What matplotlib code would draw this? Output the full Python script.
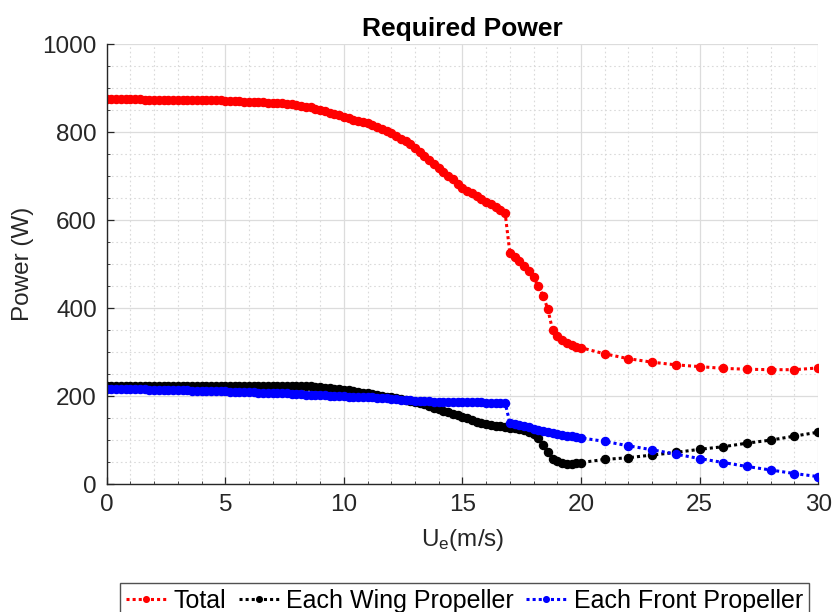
import numpy as np
import matplotlib
matplotlib.use("Agg")
import matplotlib.pyplot as plt
from matplotlib.ticker import MultipleLocator

plt.rcParams['font.family'] = ['Liberation Sans', 'DejaVu Sans']
plt.rcParams['mathtext.default'] = 'regular'

# ---------------- data ----------------
# dense region 0..20 (step 0.2), then sparse 21..30
u_dense = np.round(np.arange(0, 20.0001, 0.2), 1)
u_sparse = [21, 22, 23, 24, 25, 26, 27, 28, 29, 30]

total_dense = [
    875, 875, 875, 875, 875, 875, 875, 875, 874, 874,   # 0.0-1.8
    874, 874, 874, 874, 874, 874, 873, 873, 873, 873,   # 2.0-3.8
    873, 873, 873, 872, 872, 871, 871, 870, 870, 869,   # 4.0-5.8
    869, 869, 868, 868, 867, 867, 866, 865, 864, 863,   # 6.0-7.8
    862, 860, 858, 856, 853, 850, 847, 844, 841, 838,   # 8.0-9.8
    835, 831, 828, 825, 823, 820, 816, 811, 807, 802,   # 10.0-11.8
    797, 791, 785, 779, 772, 764, 754, 745, 736, 727,   # 12.0-13.8
    719, 710, 701, 693, 683, 673, 667, 662, 655, 648,   # 14.0-15.8
    642, 636, 630, 623, 616, 526, 516, 506, 496, 484,   # 16.0-17.8
    470, 450, 428, 398, 350, 337, 327, 320, 315, 312,   # 18.0-19.8
    310,                                                # 20.0
]
total_sparse = [296, 285, 277, 271, 267, 263, 261, 260, 260, 264]

wing_dense = [
    223, 223, 223, 223, 223, 223, 223, 223, 223, 223,   # 0.0-1.8
    223, 223, 223, 223, 223, 223, 223, 223, 223, 223,   # 2.0-3.8
    223, 223, 223, 223, 223, 223, 223, 223, 224, 224,   # 4.0-5.8
    224, 224, 224, 224, 224, 224, 224, 224, 224, 223,   # 6.0-7.8
    223, 223, 223, 222, 221, 220, 219, 218, 217, 215,   # 8.0-9.8
    214, 213, 211, 210, 208, 206, 205, 203, 201, 199,   # 10.0-11.8
    197, 195, 193, 191, 189, 187, 184, 181, 178, 174,   # 12.0-13.8
    171, 167, 164, 160, 157, 153, 150, 146, 142, 139,   # 14.0-15.8
    136, 134, 132, 131, 130, 128, 127, 125, 122, 119,   # 16.0-17.8
    113, 104, 88, 72, 58, 52, 48, 46, 46, 47,           # 18.0-19.8
    49,                                                 # 20.0
]
wing_sparse = [56, 60, 66, 72, 79, 85, 93, 100, 109, 118]

front_dense = [
    216, 216, 216, 216, 215, 215, 215, 215, 215, 214,   # 0.0-1.8
    214, 214, 214, 214, 213, 213, 213, 213, 212, 212,   # 2.0-3.8
    212, 212, 211, 211, 211, 211, 210, 210, 210, 209,   # 4.0-5.8
    209, 209, 208, 208, 207, 207, 207, 206, 206, 205,   # 6.0-7.8
    204, 204, 203, 203, 202, 202, 202, 201, 201, 200,   # 8.0-9.8
    200, 199, 199, 198, 198, 197, 197, 196, 196, 195,   # 10.0-11.8
    194, 193, 192, 191, 190, 189, 189, 188, 188, 187,   # 12.0-13.8
    187, 187, 186, 186, 186, 186, 186, 186, 186, 186,   # 14.0-15.8
    185, 185, 185, 185, 185, 139, 137, 135, 132, 129,   # 16.0-17.8
    126, 124, 121, 119, 117, 114, 112, 110, 109, 107,   # 18.0-19.8
    105,                                                # 20.0
]
front_sparse = [97, 87, 78, 68, 58, 49, 40, 32, 24, 17]

labels = ['Total', 'Each Wing Propeller', 'Each Front Propeller']
colors = ['#ff0000', '#000000', '#0000ff']

# ---------------- plot ----------------
fig = plt.figure(figsize=(8.4, 6.12), dpi=100)
ax = fig.add_axes([0.127, 0.209, 0.847, 0.719])

u_all = np.concatenate([u_dense, u_sparse])
series = [np.concatenate([total_dense, total_sparse]),
          np.concatenate([wing_dense, wing_sparse]),
          np.concatenate([front_dense, front_sparse])]

handles = []
for y, c, lab in zip(series, colors, labels):
    h, = ax.plot(u_all, y, linestyle=(0, (1, 1)), linewidth=2.2, color=c,
                 marker='o', markersize=5.8, markerfacecolor=c,
                 markeredgewidth=1.0, markeredgecolor=c, label=lab)
    handles.append(h)

ax.set_xlim(0, 30)
ax.set_ylim(0, 1000)
ax.xaxis.set_major_locator(MultipleLocator(5))
ax.xaxis.set_minor_locator(MultipleLocator(1))
ax.yaxis.set_major_locator(MultipleLocator(200))
ax.yaxis.set_minor_locator(MultipleLocator(50))

ax.grid(True, which='major', color='#dcdcdc', linewidth=0.9, linestyle='-')
ax.grid(True, which='minor', color='#dadada', linewidth=0.8, linestyle=(0, (1.5, 2.5)))
ax.set_axisbelow(True)

for s in ['top', 'right']:
    ax.spines[s].set_visible(False)
for s in ['left', 'bottom']:
    ax.spines[s].set_color('#262626')
    ax.spines[s].set_linewidth(1.0)

ax.tick_params(which='major', direction='in', length=5, width=0.9,
               colors='#262626', labelsize=17.5, pad=7)
ax.tick_params(which='minor', direction='in', length=2.5, width=0.6, colors='#262626')

ax.set_title('Required Power', fontsize=19, fontweight='bold', pad=6)
ax.set_ylabel('Power (W)', fontsize=17.5, color='#262626', labelpad=6)
ax.set_xlabel(r'U$_{e}$(m/s)', fontsize=17.5, color='#262626', labelpad=8)

leg = fig.legend(handles=handles, labels=labels, loc='upper center',
                 bbox_to_anchor=(0.553, 0.048), ncol=3, fontsize=18,
                 frameon=True, fancybox=False, edgecolor='#262626',
                 handlelength=1.6, handletextpad=0.3, columnspacing=0.5,
                 borderpad=0.25, borderaxespad=0.0, markerscale=0.7)
leg.get_frame().set_linewidth(1.0)

fig.savefig('out.png', dpi=100)
